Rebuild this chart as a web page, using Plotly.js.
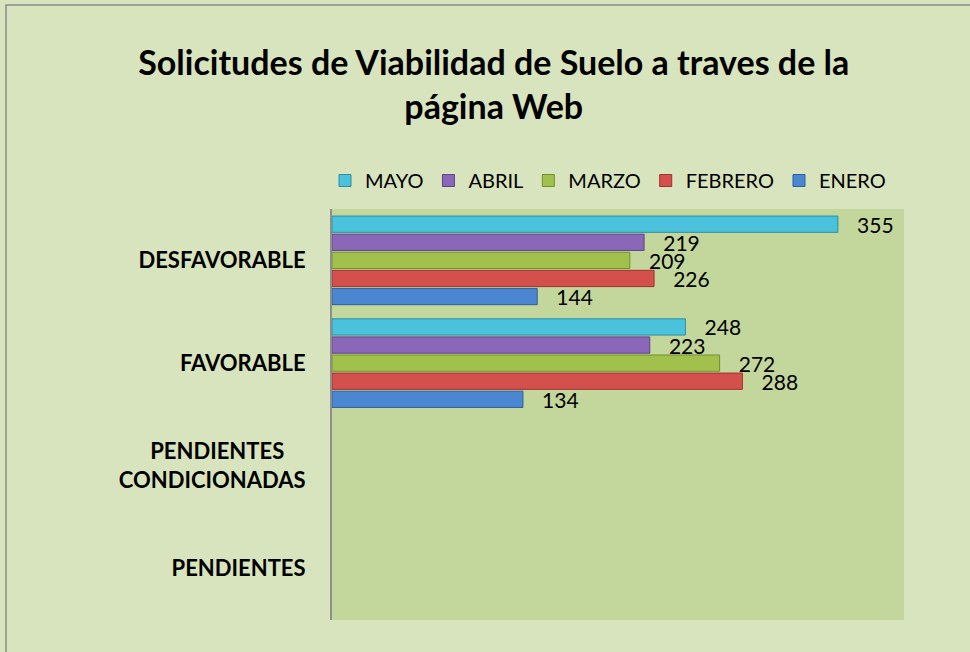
<!DOCTYPE html>
<html>
<head>
<meta charset="utf-8">
<script src="https://cdn.plot.ly/plotly-3.0.1.min.js"></script>
<style>html,body{margin:0;padding:0;background:#d7e4bd;}#chart{width:970px;height:652px;}</style>
</head>
<body>
<div id="chart"></div>
<script>
// Categories, bottom to top as drawn
const categories = ['PENDIENTES', 'PENDIENTES CONDICIONADAS', 'FAVORABLE', 'DESFAVORABLE'];
const tickLabels = ['PENDIENTES', 'PENDIENTES\u00a0\u00a0\u00a0\u00a0<br>CONDICIONADAS', 'FAVORABLE', 'DESFAVORABLE'];
const seriesNames = ['ENERO', 'FEBRERO', 'MARZO', 'ABRIL', 'MAYO'];
const enero   = [null, null, 134, 144];
const febrero = [null, null, 288, 226];
const marzo   = [null, null, 272, 209];
const abril   = [null, null, 223, 219];
const mayo    = [null, null, 248, 355];

const seriesValues = [enero, febrero, marzo, abril, mayo];
const fillColors = ['#4a87d0', '#d4504d', '#a2c14c', '#8a67b8', '#4bc2dc'];
const lineColors = ['#2e5f9e', '#9e3230', '#748f2f', '#5e4488', '#2b8fa6'];

const FONT = 'Lato, "Open Sans", sans-serif';

const traces = seriesNames.map((name, i) => ({
  type: 'bar',
  orientation: 'h',
  name: name,
  y: categories,
  x: seriesValues[i],
  marker: {color: fillColors[i], line: {color: lineColors[i], width: 1}},
  texttemplate: '\u00a0\u00a0\u00a0%{x}',
  textposition: 'outside',
  constraintext: 'none',
  cliponaxis: false,
  textfont: {family: FONT, size: 21, color: '#000'},
  hoverinfo: 'x+name'
}));

const layout = {
  width: 970,
  height: 652,
  margin: {l: 332, r: 66, t: 209, b: 32, pad: 0},
  paper_bgcolor: '#d7e4bd',
  plot_bgcolor: '#c3d69b',
  font: {family: FONT, color: '#000'},
  title: {
    text: '<b>Solicitudes de Viabilidad de Suelo a traves de la<br>página Web</b>',
    font: {family: FONT, size: 34, color: '#000'},
    x: 0.509, xref: 'container', xanchor: 'center',
    y: 1 - 75 / 652, yref: 'container', yanchor: 'top'
  },
  barmode: 'group',
  bargap: 0.12,
  bargroupgap: 0.1,
  xaxis: {
    range: [0, 401.4],
    visible: false,
    showgrid: false,
    zeroline: false,
    fixedrange: true
  },
  yaxis: {
    type: 'category',
    categoryorder: 'array',
    categoryarray: categories,
    tickmode: 'array',
    tickvals: categories,
    ticktext: tickLabels,
    showline: true,
    linecolor: '#8e8e8e',
    linewidth: 2,
    ticks: '',
    showgrid: false,
    zeroline: false,
    ticklabelstandoff: 20,
    tickfont: {family: FONT, size: 22, color: '#000', weight: 'bold'},
    fixedrange: true
  },
  showlegend: true,
  legend: {
    orientation: 'h',
    traceorder: 'reversed',
    xref: 'paper', yref: 'paper',
    x: (325 - 332) / 572, xanchor: 'left',
    y: (620 - 161) / 411, yanchor: 'top',
    font: {family: FONT, size: 20, color: '#000'},
    bgcolor: 'rgba(0,0,0,0)'
  },
  shapes: [{
    type: 'rect', xref: 'paper', yref: 'paper',
    x0: (6 - 332) / 572, x1: (980 - 332) / 572,
    y0: (620 - 670) / 411, y1: (620 - 5) / 411,
    line: {color: '#8a8a8a', width: 1.5},
    fillcolor: 'rgba(0,0,0,0)',
    layer: 'below'
  }]
};

Plotly.newPlot('chart', traces, layout, {displayModeBar: false, staticPlot: true});
</script>
</body>
</html>
